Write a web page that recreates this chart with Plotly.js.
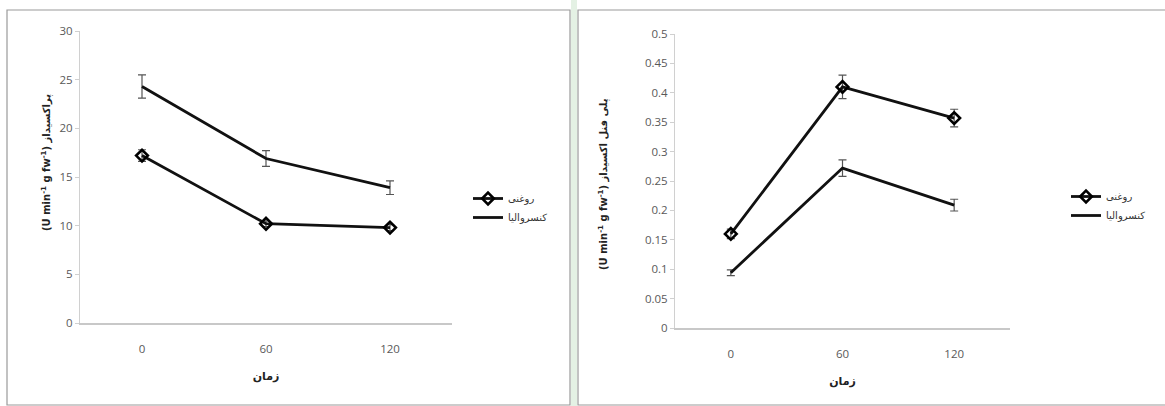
<!DOCTYPE html>
<html>
<head>
<meta charset="utf-8">
<script src="https://cdn.plot.ly/plotly-3.0.1.min.js"></script>
<style>html,body{margin:0;padding:0;background:#fff;}#chart{width:1165px;height:406px;}</style>
</head>
<body>
<div id="chart"></div>
<script>
// Data
var times = ["0", "60", "120"];
var seriesNames = ["روغنی", "کنسروالیا"];
// Left: peroxidase
var poxOil = [17.2, 10.2, 9.8];
var poxOilErr = [0.6, 0.3, 0.3];
var poxCtrl = [24.3, 16.9, 13.9];
var poxCtrlErr = [1.2, 0.8, 0.7];
// Right: polyphenol oxidase
var ppoOil = [0.16, 0.41, 0.357];
var ppoOilErr = [0.008, 0.02, 0.015];
var ppoCtrl = [0.094, 0.272, 0.209];
var ppoCtrlErr = [0.005, 0.014, 0.01];
var xTitle = "زمان";
var yTitleLeft = "(U min<sup>-1</sup> g fw<sup>-1</sup>) پراکسیداز";
var yTitleRight = "(U min<sup>-1</sup> g fw<sup>-1</sup>) پلی فنل اکسیداز";

var W = 1165, H = 406;
function px(x){return x/W;}
function py(y){return 1 - y/H;}

var errStyle = {type:'data', visible:true, color:'#555', thickness:1.2, width:4};
function err(a){var e = Object.assign({}, errStyle); e.array = a; return e;}

var oilMarker = {symbol:'diamond-open', size:9, color:'#000', line:{width:2.6, color:'#000'}};

var traces = [
  {x:times, y:poxOil, error_y:err(poxOilErr), name:seriesNames[0], mode:'lines+markers',
   line:{color:'#111', width:2.8}, marker:oilMarker, xaxis:'x', yaxis:'y', legend:'legend'},
  {x:times, y:poxCtrl, error_y:err(poxCtrlErr), name:seriesNames[1], mode:'lines',
   line:{color:'#111', width:2.8}, xaxis:'x', yaxis:'y', legend:'legend'},
  {x:times, y:ppoOil, error_y:err(ppoOilErr), name:seriesNames[0], mode:'lines+markers',
   line:{color:'#111', width:2.8}, marker:oilMarker, xaxis:'x2', yaxis:'y2', legend:'legend2'},
  {x:times, y:ppoCtrl, error_y:err(ppoCtrlErr), name:seriesNames[1], mode:'lines',
   line:{color:'#111', width:2.8}, xaxis:'x2', yaxis:'y2', legend:'legend2'}
];

var tickFont = {family:'Open Sans, DejaVu Sans, sans-serif', size:11.5, color:'#595959'};
var titleFont = {family:'DejaVu Sans, Noto Sans, sans-serif', size:11, color:'#222', weight:'bold'};
var yTitleFont = {family:'DejaVu Sans, Noto Sans, sans-serif', size:10, color:'#222', weight:'bold'};

function xAxis(d, anchor){
  return {domain:d, anchor:anchor, type:'category', range:[-0.5, 2.5], showgrid:false, zeroline:false,
    showline:true, linecolor:'#c8c8c8', linewidth:2, ticks:'', tickfont:tickFont, ticklabelstandoff:14,
    title:{text:xTitle, font:titleFont, standoff:18}, fixedrange:true};
}
function yAxis(d, anchor, r, dt){
  return {domain:d, anchor:anchor, range:r, dtick:dt, showgrid:false, zeroline:false,
    showline:true, linecolor:'#d0d0d0', linewidth:1, ticks:'outside', ticklen:4, tickcolor:'#d0d0d0',
    tickfont:tickFont, fixedrange:true};
}

var layout = {
  width:W, height:H, margin:{l:0, r:0, t:0, b:0},
  paper_bgcolor:'#fff', plot_bgcolor:'rgba(0,0,0,0)',
  font:{family:'DejaVu Sans, sans-serif', color:'#222'},
  xaxis: xAxis([px(80), px(452)], 'y'),
  yaxis: yAxis([py(323), py(31)], 'x', [0, 30], 5),
  xaxis2: xAxis([px(675), px(1010)], 'y2'),
  yaxis2: yAxis([py(328), py(34)], 'x2', [0, 0.5], 0.05),
  legend:{x:px(468), y:py(184), xanchor:'left', yanchor:'top', bgcolor:'rgba(0,0,0,0)',
    font:{family:'DejaVu Sans, sans-serif', size:10, color:'#333'}, itemwidth:30, tracegroupgap:0},
  legend2:{x:px(1066), y:py(182), xanchor:'left', yanchor:'top', bgcolor:'rgba(0,0,0,0)',
    font:{family:'DejaVu Sans, sans-serif', size:10, color:'#333'}, itemwidth:30, tracegroupgap:0},
  showlegend:true,
  annotations:[
    {text:yTitleLeft, xref:'paper', yref:'paper', x:px(46), y:py(163), textangle:-90,
     showarrow:false, font:yTitleFont, xanchor:'center', yanchor:'middle'},
    {text:yTitleRight, xref:'paper', yref:'paper', x:px(603), y:py(184), textangle:-90,
     showarrow:false, font:yTitleFont, xanchor:'center', yanchor:'middle'}
  ],
  shapes:[
    {type:'rect', xref:'paper', yref:'paper', x0:px(7), x1:px(570), y0:py(405), y1:py(10),
     line:{color:'#9a9a9a', width:1.2}, fillcolor:'rgba(0,0,0,0)'},
    {type:'rect', xref:'paper', yref:'paper', x0:px(578), x1:px(1168), y0:py(405), y1:py(10),
     line:{color:'#9a9a9a', width:1.2}, fillcolor:'rgba(0,0,0,0)'},
    {type:'rect', xref:'paper', yref:'paper', x0:px(571), x1:px(577), y0:0, y1:1,
     line:{width:0}, fillcolor:'#e4f1e4', layer:'below'}
  ]
};

Plotly.newPlot('chart', traces, layout, {displayModeBar:false, staticPlot:true});
</script>
</body>
</html>
